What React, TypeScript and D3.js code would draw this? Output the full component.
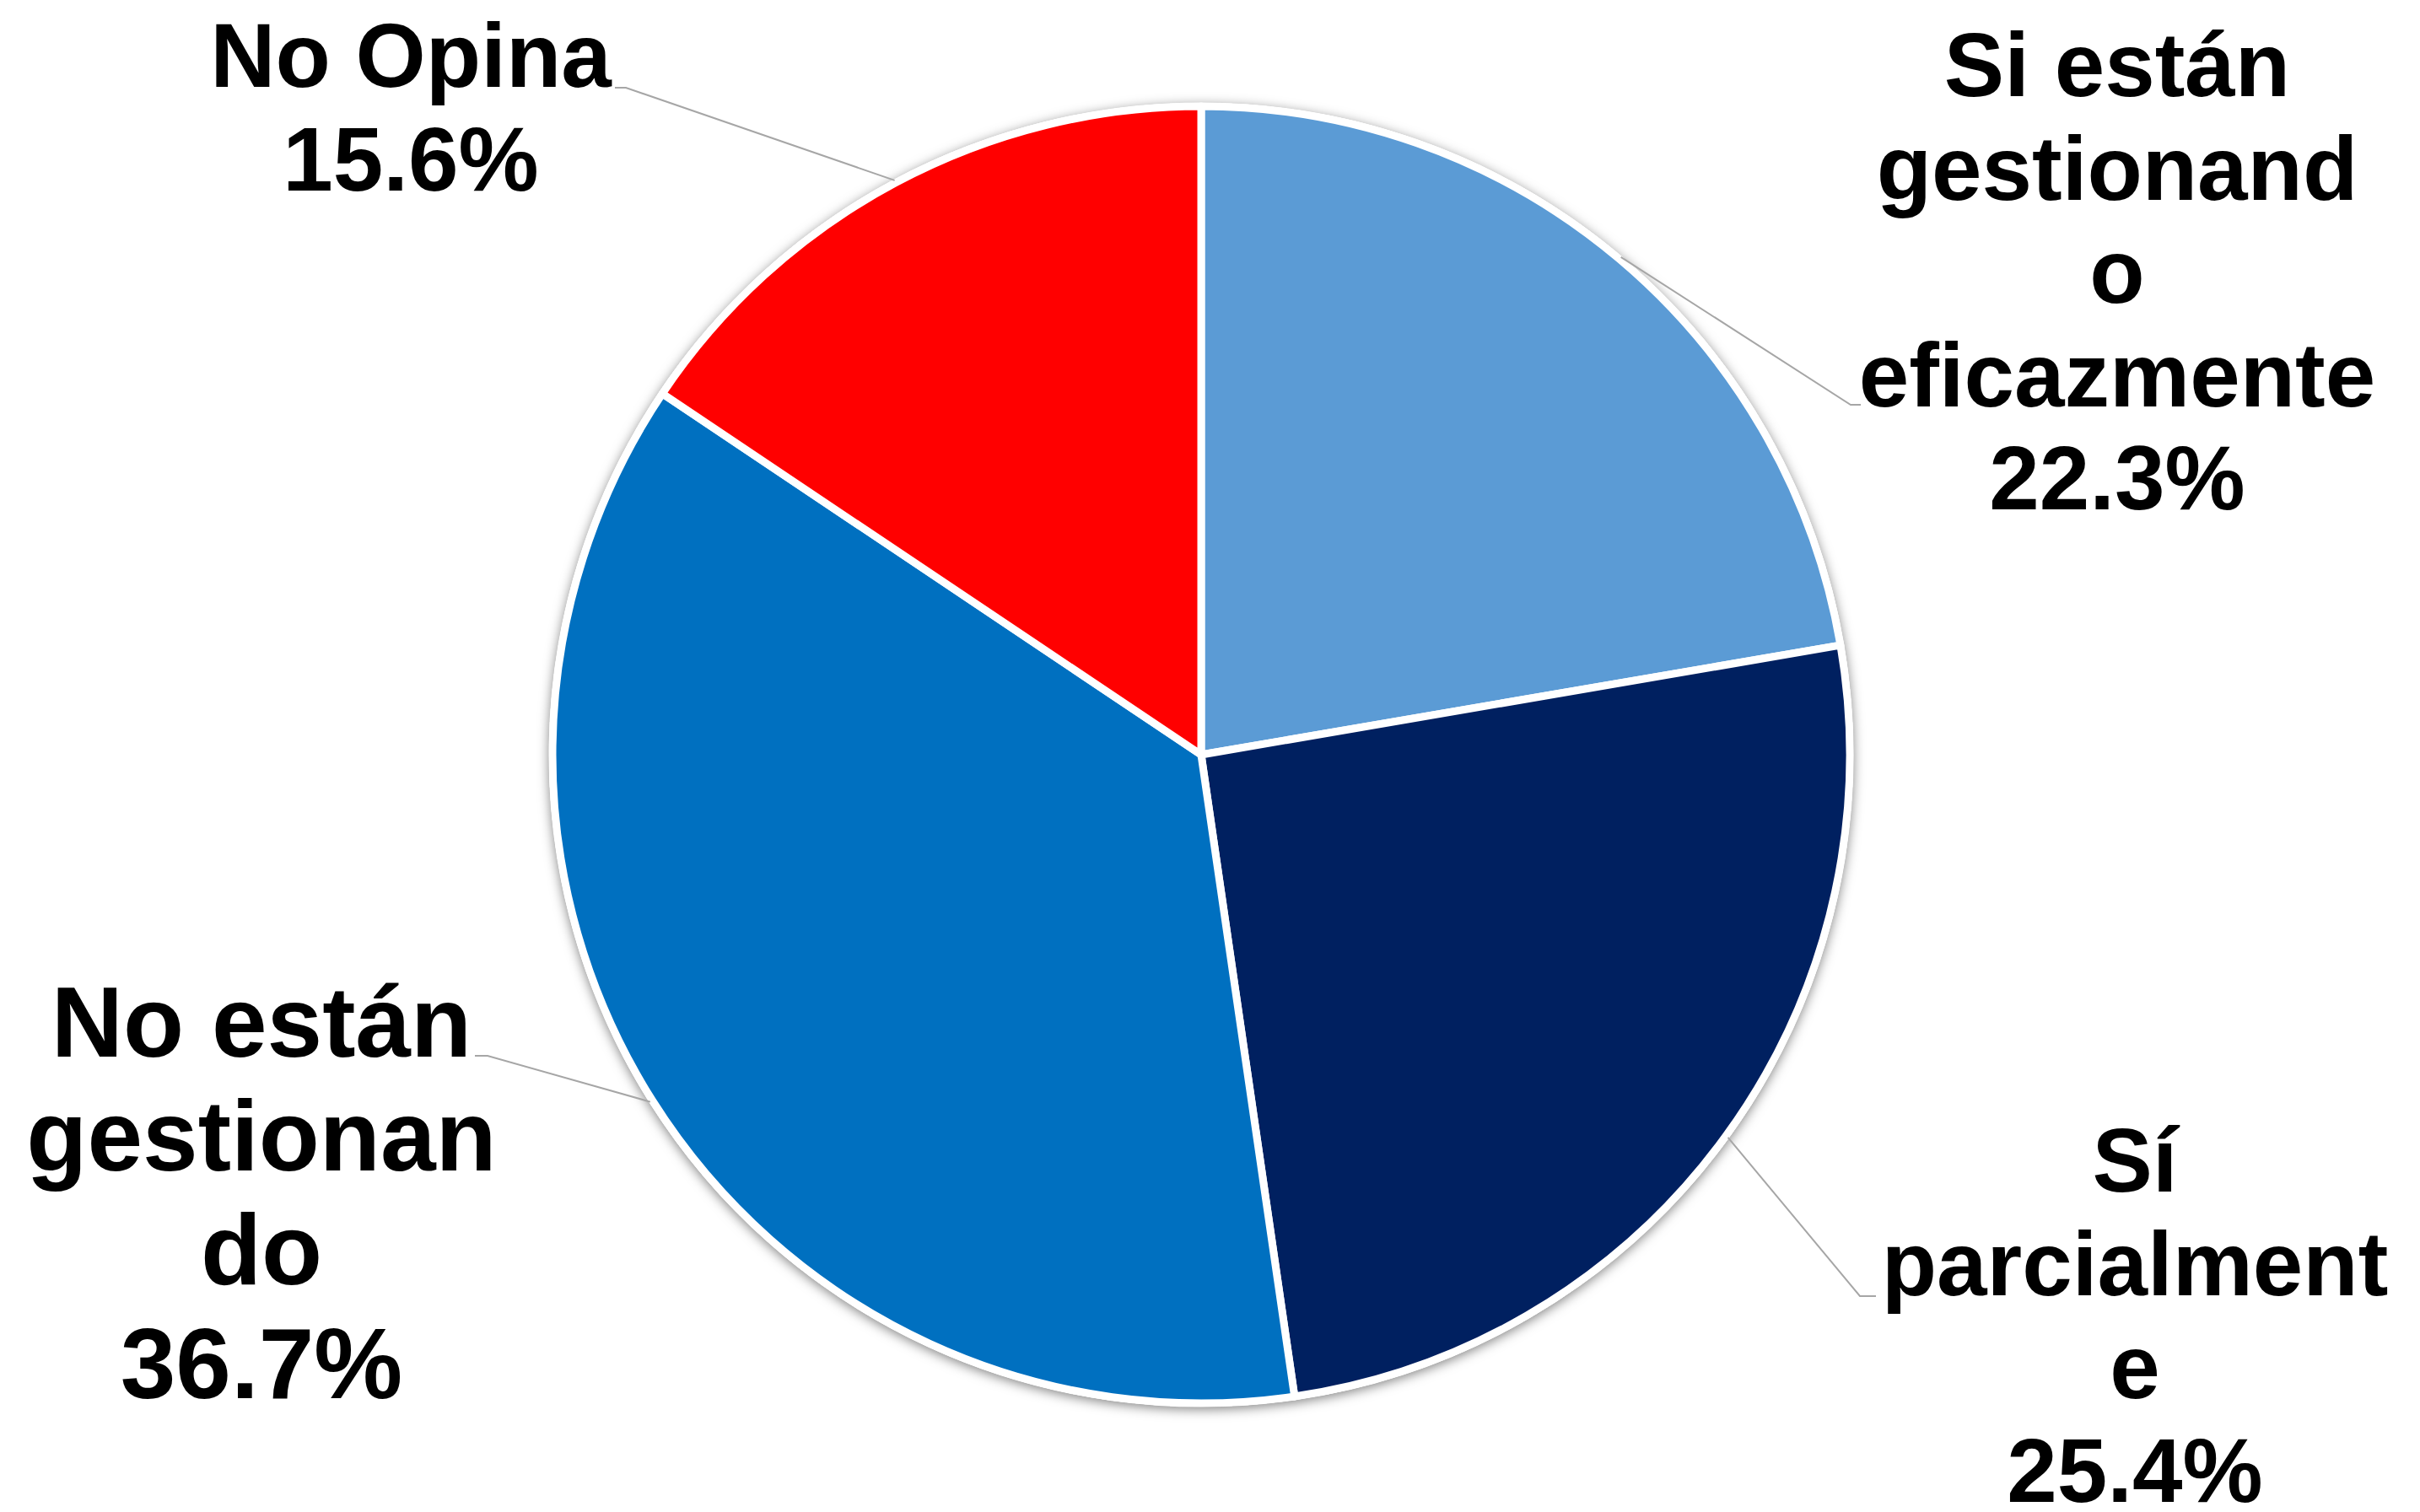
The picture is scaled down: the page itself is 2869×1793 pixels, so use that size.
import React from "react";
import * as d3 from "d3";

const categories = [
  "Si están gestionando eficazmente",
  "Sí parcialmente",
  "No están gestionando",
  "No Opina",
];
const values = [22.3, 25.4, 36.7, 15.6];
const colors = ["#5B9BD5", "#002060", "#0070C0", "#FF0000"];
const labelLines = [
  ["Si están", "gestionand", "o", "eficazmente"],
  ["Sí", "parcialment", "e"],
  ["No están", "gestionan", "do"],
  ["No Opina"],
];

// layout (positions of the label blocks and leader elbows)
const labelLayout = [
  { x: 2510, y: 114, lh: 122.5, fs: 107, elbow: [2194, 480], end: [2206, 480] },
  { x: 2531, y: 1413, lh: 122.5, fs: 107, elbow: [2205, 1537], end: [2224, 1537] },
  { x: 310, y: 1253, lh: 135, fs: 118, elbow: [578, 1252], end: [563, 1252] },
  { x: 487, y: 103, lh: 123, fs: 107, elbow: [742, 104], end: [729, 104] },
];

const W = 2869;
const H = 1793;
const cx = 1424;
const cy = 895;
const R = 769;

export default function App() {
  const pie = d3.pie<number>().sort(null).value((d) => d);
  const arcs = pie(values);
  const arc = d3.arc<d3.PieArcDatum<number>>().innerRadius(0).outerRadius(R);
  const anchorArc = d3
    .arc<d3.PieArcDatum<number>>()
    .innerRadius(R + 3)
    .outerRadius(R + 3);
  const fmt = (v: number) => v.toFixed(1) + "%";

  return (
    <div style={{ position: "absolute", left: 0, top: 0, width: W, height: H, background: "#fff" }}>
      <svg width={W} height={H} viewBox={`0 0 ${W} ${H}`} style={{ display: "block" }}>
        <defs>
          <filter id="sh" x="-20%" y="-20%" width="140%" height="140%">
            <feDropShadow dx="0" dy="3" stdDeviation="7" floodColor="#000" floodOpacity="0.5" />
          </filter>
        </defs>
        <g transform={`translate(${cx},${cy})`}>
          <circle r={R + 4} fill="#fff" filter="url(#sh)" />
          {arcs.map((a, i) => (
            <path
              key={categories[i]}
              d={arc(a) || ""}
              fill={colors[i]}
              stroke="#fff"
              strokeWidth={9}
              strokeLinejoin="round"
            />
          ))}
        </g>
        {arcs.map((a, i) => {
          const [ax, ay] = anchorArc.centroid(a);
          const L = labelLayout[i];
          const pts: [number, number][] = [
            [cx + ax, cy + ay],
            [L.elbow[0], L.elbow[1]],
            [L.end[0], L.end[1]],
          ];
          return (
            <path
              key={"l" + i}
              d={d3.line()(pts) || ""}
              fill="none"
              stroke="#A6A6A6"
              strokeWidth={2}
            />
          );
        })}
        {labelLines.map((lines, i) => {
          const L = labelLayout[i];
          const all = [...lines, fmt(values[i])];
          return (
            <text
              key={"t" + i}
              x={L.x}
              y={L.y}
              textAnchor="middle"
              fontFamily="'Liberation Sans', Arial, Helvetica, sans-serif"
              fontWeight="bold"
              fontSize={L.fs}
              fill="#000"
            >
              {all.map((s, j) => (
                <tspan key={j} x={L.x} y={L.y + j * L.lh}>
                  {s}
                </tspan>
              ))}
            </text>
          );
        })}
      </svg>
    </div>
  );
}
